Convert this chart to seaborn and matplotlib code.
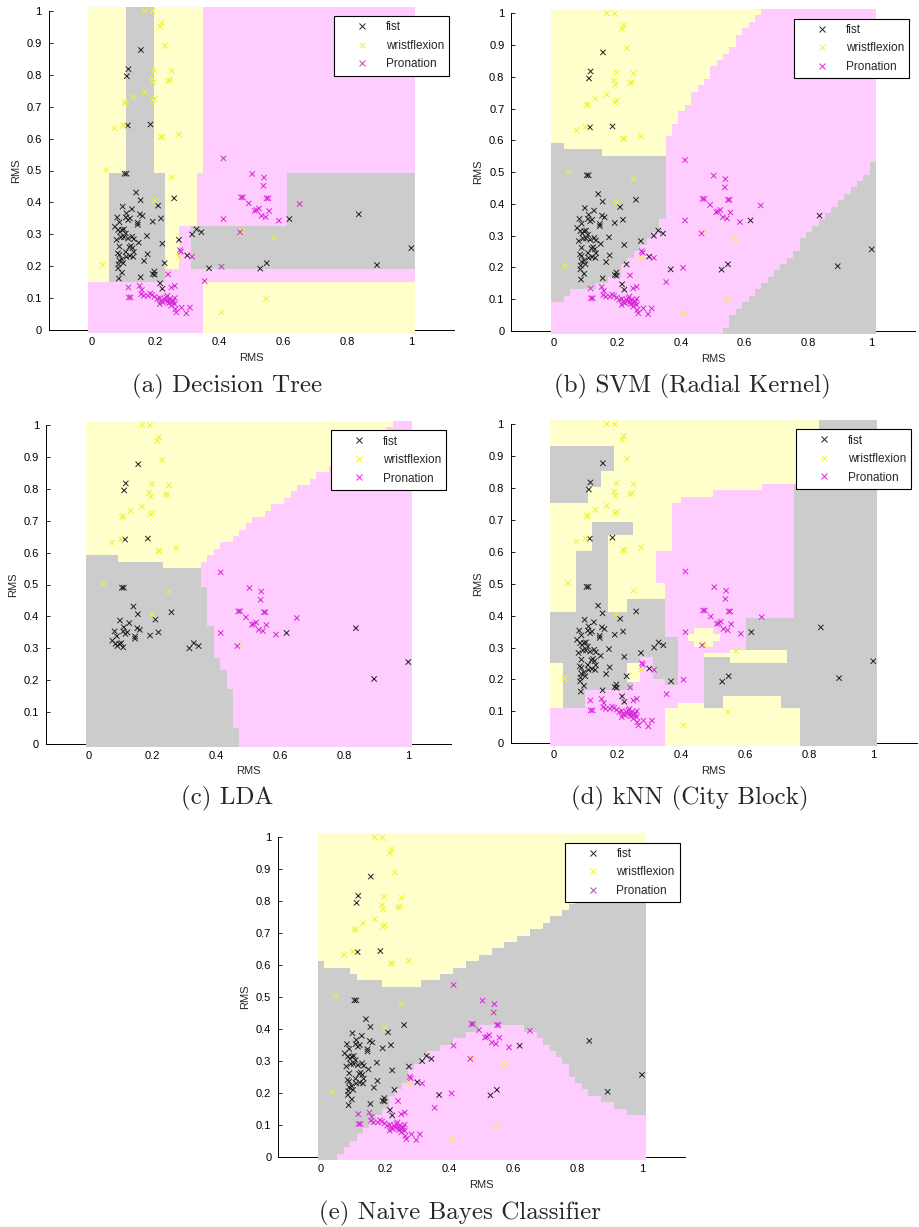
import numpy as np
import pandas as pd
import seaborn as sns
import matplotlib.pyplot as plt
from matplotlib.colors import ListedColormap
from matplotlib.lines import Line2D
from matplotlib.path import Path

# RMS feature pairs of every trial
fist_x = [0.155, 0.116, 0.111, 0.114, 0.185, 0.104, 0.110, 0.140, 0.154, 0.098,
          0.127, 0.259, 0.209, 0.218, 0.192, 0.152, 0.160, 0.145, 0.145, 0.174,
          0.222, 0.148, 0.133, 0.128, 0.176, 0.165, 0.229, 0.154, 0.192, 0.197,
          0.198, 0.215, 0.222, 0.274, 0.300, 0.315, 0.329, 0.344, 0.368, 0.528,
          0.548, 0.619, 0.836, 0.893, 1.000,
          0.081, 0.088, 0.074, 0.084, 0.090, 0.079, 0.088, 0.083, 0.088, 0.088,
          0.085, 0.084, 0.086, 0.096, 0.110, 0.108, 0.121, 0.115, 0.096, 0.102,
          0.108, 0.093, 0.102, 0.115, 0.124, 0.119, 0.129, 0.108, 0.110, 0.121,
          0.096, 0.100, 0.133, 0.131]
fist_y = [0.877, 0.817, 0.795, 0.641, 0.644, 0.490, 0.490, 0.431, 0.407, 0.387,
          0.379, 0.413, 0.390, 0.350, 0.340, 0.363, 0.358, 0.337, 0.330, 0.295,
          0.271, 0.274, 0.285, 0.293, 0.238, 0.217, 0.210, 0.166, 0.176, 0.184,
          0.174, 0.147, 0.130, 0.283, 0.234, 0.300, 0.316, 0.307, 0.194, 0.193,
          0.210, 0.348, 0.363, 0.204, 0.257,
          0.353, 0.338, 0.324, 0.314, 0.307, 0.283, 0.262, 0.241, 0.236, 0.218,
          0.206, 0.194, 0.162, 0.180, 0.366, 0.353, 0.350, 0.345, 0.314, 0.316,
          0.303, 0.291, 0.291, 0.287, 0.264, 0.260, 0.257, 0.245, 0.230, 0.233,
          0.222, 0.210, 0.245, 0.230]

wrist_x = [0.167, 0.192, 0.220, 0.215, 0.230, 0.197, 0.251, 0.190, 0.194, 0.246,
           0.240, 0.167, 0.131, 0.108, 0.104, 0.193, 0.199, 0.072, 0.100, 0.218,
           0.222, 0.274, 0.046, 0.251, 0.198, 0.035, 0.274, 0.571, 0.470, 0.407,
           0.546]
wrist_y = [1.000, 0.999, 0.962, 0.950, 0.890, 0.814, 0.811, 0.788, 0.775, 0.783,
           0.780, 0.744, 0.731, 0.714, 0.710, 0.720, 0.725, 0.632, 0.642, 0.606,
           0.604, 0.613, 0.502, 0.478, 0.405, 0.204, 0.230, 0.290, 0.310, 0.056,
           0.098]

pron_x = [0.413, 0.503, 0.540, 0.538, 0.468, 0.474, 0.553, 0.548, 0.492, 0.651,
          0.517, 0.524, 0.511, 0.556, 0.532, 0.545, 0.586, 0.413, 0.465,
          0.277, 0.280, 0.315, 0.407, 0.354, 0.240,
          0.116, 0.123, 0.117, 0.151, 0.158, 0.156, 0.164, 0.177, 0.184, 0.190,
          0.198, 0.206, 0.214, 0.219, 0.224, 0.229, 0.235, 0.240, 0.245, 0.250,
          0.256, 0.261, 0.238, 0.214, 0.250, 0.261, 0.250, 0.261, 0.282, 0.308,
          0.266, 0.297, 0.263, 0.232, 0.243, 0.255]
pron_y = [0.538, 0.489, 0.478, 0.452, 0.416, 0.416, 0.413, 0.413, 0.397, 0.395,
          0.376, 0.381, 0.374, 0.373, 0.358, 0.354, 0.343, 0.348, 0.307,
          0.251, 0.246, 0.230, 0.199, 0.154, 0.175,
          0.134, 0.103, 0.103, 0.139, 0.126, 0.113, 0.108, 0.108, 0.115, 0.111,
          0.105, 0.098, 0.101, 0.092, 0.087, 0.098, 0.103, 0.092, 0.098, 0.087,
          0.094, 0.101, 0.108, 0.082, 0.077, 0.082, 0.134, 0.139, 0.071, 0.071,
          0.056, 0.053, 0.066, 0.093, 0.085, 0.090]

gestures = ['fist', 'wristflexion', 'Pronation']
FIST, WRIST, PRON = 0, 1, 2

# decision regions: (x0, x1, y0, y1, class)
tree_boxes = [
    (0.352, 1.01, 0.49, 1.01, PRON),
    (0.331, 1.01, 0.148, 0.49, PRON),
    (0.274, 0.331, 0.148, 0.327, PRON),
    (0.232, 0.274, 0.148, 0.189, PRON),
    (-0.01, 0.352, -0.01, 0.148, PRON),
    (0.112, 0.193, 0.49, 1.01, FIST),
    (0.054, 0.232, 0.148, 0.49, FIST),
    (0.31, 1.01, 0.189, 0.327, FIST),
    (0.612, 1.01, 0.189, 0.49, FIST),
]

knn_boxes = [
    (0.40, 0.75, 0.75, 0.77, PRON), (0.50, 0.75, 0.77, 0.79, PRON),
    (0.65, 0.75, 0.79, 0.81, PRON), (0.37, 0.75, 0.60, 0.75, PRON),
    (0.32, 0.75, 0.50, 0.60, PRON), (0.35, 0.75, 0.28, 0.50, PRON),
    (0.39, 0.47, 0.125, 0.28, PRON),
    (-0.01, 0.19, 0.85, 0.93, FIST), (-0.01, 0.15, 0.80, 0.85, FIST),
    (-0.01, 0.11, 0.75, 0.80, FIST), (0.12, 0.17, 0.60, 0.69, FIST),
    (0.17, 0.25, 0.65, 0.69, FIST), (0.07, 0.17, 0.41, 0.60, FIST),
    (-0.01, 0.35, 0.25, 0.41, FIST), (0.03, 0.39, 0.11, 0.25, FIST),
    (0.23, 0.35, 0.41, 0.45, FIST), (0.35, 0.39, 0.18, 0.33, FIST),
    (0.47, 0.75, 0.11, 0.27, FIST), (0.60, 0.75, 0.27, 0.39, FIST),
    (0.75, 1.01, 0.11, 0.81, FIST), (0.77, 1.01, -0.01, 0.11, FIST),
    (0.83, 1.01, 0.81, 1.01, FIST),
    (-0.01, 0.35, -0.01, 0.11, PRON), (0.10, 0.25, 0.11, 0.165, PRON),
    (0.25, 0.39, 0.11, 0.18, PRON), (0.25, 0.35, 0.18, 0.20, PRON),
    (0.27, 0.31, 0.20, 0.27, PRON),
    (0.23, 0.27, 0.19, 0.25, WRIST), (0.44, 0.50, 0.30, 0.36, WRIST),
    (0.42, 0.52, 0.32, 0.34, WRIST), (0.55, 0.73, 0.25, 0.29, WRIST),
    (0.53, 0.71, 0.11, 0.146, WRIST),
]

svm_wrist = [(-0.01, 1.01), (0.654, 1.01), (0.607, 0.958), (0.534, 0.864),
             (0.46, 0.769), (0.397, 0.68), (0.347, 0.591), (0.347, 0.55),
             (-0.01, 0.55)]
svm_fist_left = [(-0.01, 0.59), (0.02, 0.59), (0.02, 0.572), (0.154, 0.572),
                 (0.154, 0.551), (0.347, 0.551), (0.347, 0.36), (0.33, 0.33),
                 (0.29, 0.286), (0.25, 0.234), (0.2, 0.18), (0.16, 0.15),
                 (0.1, 0.13), (0.02, 0.115), (0.02, 0.09), (-0.01, 0.09)]
svm_fist_right = [(0.513, -0.01), (1.01, -0.01), (1.01, 0.531)]

lda_wrist = [(-0.01, 1.01), (0.969, 1.01), (0.755, 0.864), (0.703, 0.833),
             (0.63, 0.78), (0.557, 0.728), (0.473, 0.666), (0.4, 0.603),
             (0.333, 0.551), (0.23, 0.551), (0.23, 0.572), (0.093, 0.572),
             (0.093, 0.592), (-0.01, 0.592)]
lda_pron = [(0.333, 0.551), (0.4, 0.603), (0.473, 0.666), (0.557, 0.728),
            (0.63, 0.78), (0.703, 0.833), (0.755, 0.864), (0.969, 1.01),
            (1.01, 1.01), (1.01, -0.01), (0.471, -0.01), (0.453, 0.1),
            (0.432, 0.2), (0.39, 0.3), (0.369, 0.45), (0.348, 0.53)]

nb_wrist = [(-0.01, 1.01), (1.01, 1.01), (1.01, 0.95), (0.786, 0.799),
            (0.755, 0.767), (0.713, 0.736), (0.661, 0.71), (0.62, 0.684),
            (0.558, 0.653), (0.475, 0.611), (0.412, 0.58), (0.35, 0.548),
            (0.308, 0.548), (0.308, 0.53), (0.194, 0.53), (0.194, 0.552),
            (0.12, 0.552), (0.12, 0.569), (0.08, 0.569), (0.08, 0.59),
            (0.0, 0.59), (0.0, 0.611), (-0.01, 0.611)]
nb_pron = [(0.033, -0.01), (1.01, -0.01), (1.01, 0.126), (0.973, 0.131),
           (0.921, 0.152), (0.869, 0.173), (0.817, 0.215), (0.765, 0.277),
           (0.713, 0.34), (0.661, 0.382), (0.62, 0.41), (0.55, 0.41),
           (0.506, 0.408), (0.454, 0.387), (0.402, 0.361), (0.35, 0.33),
           (0.308, 0.298), (0.267, 0.246), (0.225, 0.194), (0.184, 0.131),
           (0.142, 0.09), (0.1, 0.053), (0.07, 0.027), (0.049, 0.006)]

captions = ['(a) Decision Tree', '(b) SVM (Radial Kernel)', '(c) LDA',
            '(d) kNN (City Block)', '(e) Naive Bayes Classifier']
xticks = [0, 0.2, 0.4, 0.6, 0.8, 1]
xtick_labels = ['0', '0.2', '0.4', '0.6', '0.8', '1']
yticks = [0, 0.1, 0.2, 0.3, 0.4, 0.5, 0.6, 0.7, 0.8, 0.9, 1]
ytick_labels = ['0', '0.1', '0.2', '0.3', '0.4', '0.5', '0.6', '0.7', '0.8', '0.9', '1']

region_colors = ['#cccccc', '#ffffcc', '#ffccff']
marker_colors = ['#222222', '#f2f230', '#d62ad6']


def boxes(items):
    return [(c, [(x0, y0), (x1, y0), (x1, y1), (x0, y1)]) for x0, x1, y0, y1, c in items]


def class_grid(background, shapes, step):
    n = int(round(1.02 / step))
    c = -0.01 + step * (np.arange(n) + 0.5)
    gx, gy = np.meshgrid(c, c)
    pts = np.column_stack([gx.ravel(), gy.ravel()])
    grid = np.full(gx.shape, background)
    for cls, verts in shapes:
        inside = Path(verts).contains_points(pts).reshape(gx.shape)
        grid[inside] = cls
    return grid


df = pd.DataFrame({
    'x': fist_x + wrist_x + pron_x,
    'y': fist_y + wrist_y + pron_y,
    'gesture': ['fist'] * len(fist_x) + ['wristflexion'] * len(wrist_x)
               + ['Pronation'] * len(pron_x),
})
# the LDA figure only shows part of the trials
lda_df = df[(df.y >= 0.3) | (df.x > 0.8)]

panels = [
    (WRIST, boxes(tree_boxes), 0.005, df),
    (PRON, [(WRIST, svm_wrist), (FIST, svm_fist_left), (FIST, svm_fist_right)], 0.02, df),
    (FIST, [(WRIST, lda_wrist), (PRON, lda_pron)], 0.02, lda_df),
    (WRIST, boxes(knn_boxes), 0.005, df),
    (FIST, [(WRIST, nb_wrist), (PRON, nb_pron)], 0.02, df),
]

# pixel positions of data 0 / 1 on each axis, and caption centres
layout = [
    dict(x0=91.3, x1=411.3, y0=330.3, y1=10.7, cap=(227, 386)),
    dict(x0=553.7, x1=871.7, y0=331.0, y1=13.3, cap=(692, 386)),
    dict(x0=88.7, x1=408.3, y0=744.0, y1=425.0, cap=(227, 798)),
    dict(x0=553.3, x1=873.3, y0=743.3, y1=424.0, cap=(690, 798)),
    dict(x0=321.0, x1=642.0, y0=1157.0, y1=837.3, cap=(460, 1213)),
]

W, H = 919, 1227
XLO, XHI = -0.133, 1.135

sns.set_style('ticks')
plt.rcParams['font.family'] = ['Liberation Sans', 'DejaVu Sans']
fig = plt.figure(figsize=(W / 100, H / 100), dpi=100)
cmap = ListedColormap(region_colors)

for (bg, shapes, step, data), lay, cap in zip(panels, layout, captions):
    s = lay['x1'] - lay['x0']
    left = lay['x0'] + XLO * s
    ax = fig.add_axes([left / W, 1 - lay['y0'] / H, (XHI - XLO) * s / W,
                       (lay['y0'] - lay['y1']) / H])
    grid = class_grid(bg, shapes, step)
    ax.imshow(grid, origin='lower', extent=(-0.01, 1.01, -0.01, 1.01), cmap=cmap,
              vmin=0, vmax=2, interpolation='nearest', aspect='auto',
              zorder=2.6, clip_on=False)
    sns.scatterplot(data=data, x='x', y='y', hue='gesture', hue_order=gestures,
                    palette=marker_colors, marker='x', s=15, linewidth=0.7,
                    legend=False, ax=ax, zorder=3, clip_on=False)
    ax.set_xlim(XLO, XHI)
    ax.set_ylim(0, 1)
    ax.set_xticks(xticks, xtick_labels)
    ax.set_yticks(yticks, ytick_labels)
    ax.tick_params(direction='in', length=3, width=0.6, labelsize=8, pad=5,
                   colors='black')
    for side in ['top', 'right']:
        ax.spines[side].set_visible(False)
    for side in ['left', 'bottom']:
        ax.spines[side].set_linewidth(0.7)
        ax.spines[side].set_color('black')
    ax.set_xlabel('RMS', fontsize=8, labelpad=4)
    ax.set_ylabel('RMS', fontsize=8, labelpad=4)
    ax.set_facecolor('white')

    handles = [Line2D([], [], ls='none', marker='x', color=c, markersize=4,
                      markeredgewidth=0.7) for c in marker_colors]
    leg = ax.legend(handles, gestures, loc='upper right', fontsize=8.5,
                    frameon=True, fancybox=False, framealpha=1,
                    edgecolor='black', borderaxespad=0.45, borderpad=0.45,
                    handlelength=3.8, handletextpad=0.1, labelspacing=0.55)
    leg.get_frame().set_linewidth(0.8)
    leg.set_zorder(5)

    fig.text(lay['cap'][0] / W, 1 - lay['cap'][1] / H, cap, ha='center',
             va='center', family='cmr10', fontsize=18)

fig.savefig('out.png', dpi=100, facecolor='white')
